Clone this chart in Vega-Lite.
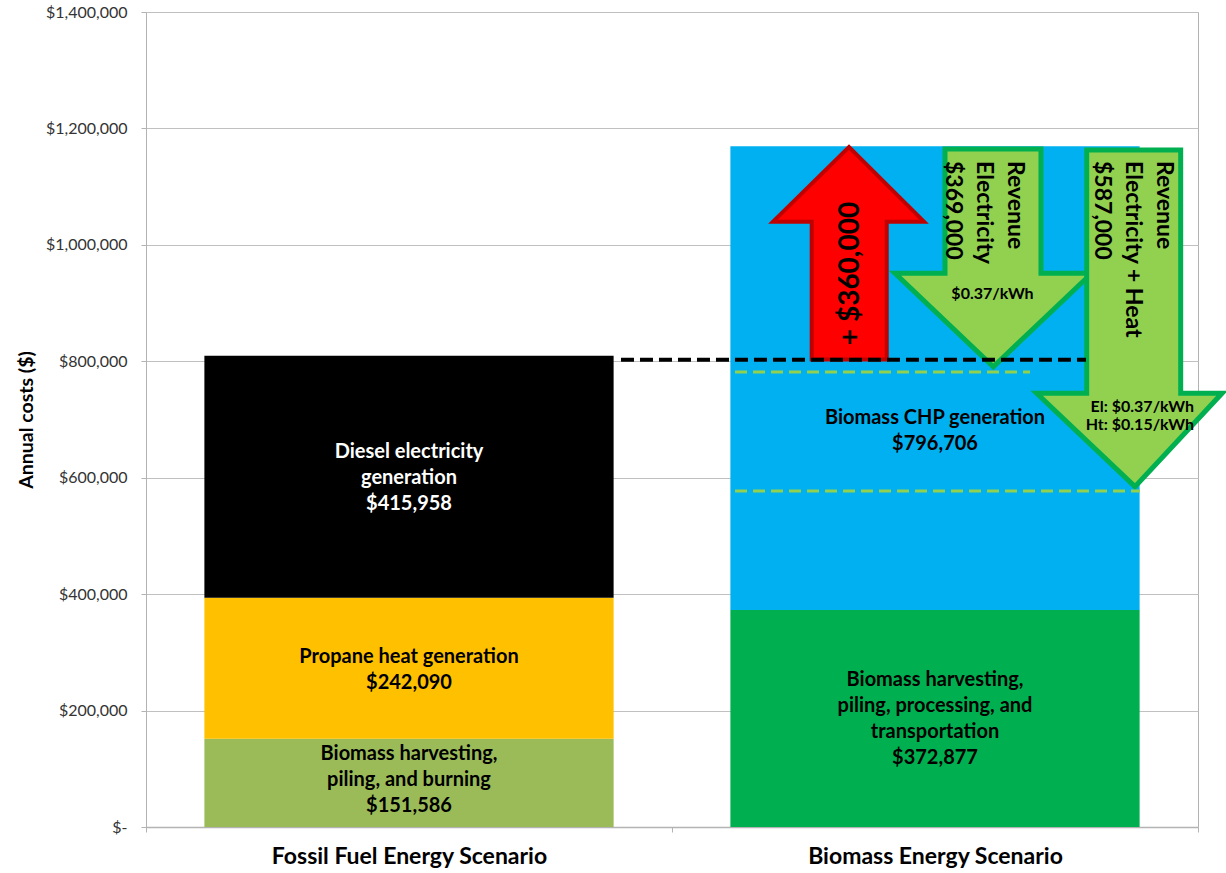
{
  "$schema": "https://vega.github.io/schema/vega-lite/v6.json",
  "width": 1052,
  "height": 815,
  "autosize": {"type": "none"},
  "padding": {"left": 146, "top": 12, "right": 28, "bottom": 46},
  "background": "white",
  "config": {
    "font": "Lato",
    "view": {"stroke": "#B3B3B3", "strokeWidth": 1},
    "axis": {"domainColor": "#B3B3B3", "tickColor": "#B3B3B3", "gridColor": "#C0C0C0"}
  },
  "datasets": {
    "bars": [
      {"scenario": "Fossil Fuel Energy Scenario", "segment": "Biomass harvesting, piling, and burning", "rank": 1, "cost": 151586},
      {"scenario": "Fossil Fuel Energy Scenario", "segment": "Propane heat generation", "rank": 2, "cost": 242090},
      {"scenario": "Fossil Fuel Energy Scenario", "segment": "Diesel electricity generation", "rank": 3, "cost": 415958},
      {"scenario": "Biomass Energy Scenario", "segment": "Biomass harvesting, piling, processing, and transportation", "rank": 1, "cost": 372877},
      {"scenario": "Biomass Energy Scenario", "segment": "Biomass CHP generation", "rank": 2, "cost": 796706}
    ],
    "barLabels": [
      {"scenario": "Fossil Fuel Energy Scenario", "segment": "Biomass harvesting, piling, and burning", "text": "Biomass harvesting,\npiling, and burning\n$151,586", "y": 125400},
      {"scenario": "Fossil Fuel Energy Scenario", "segment": "Propane heat generation", "text": "Propane heat generation\n$242,090", "y": 292000},
      {"scenario": "Fossil Fuel Energy Scenario", "segment": "Diesel electricity generation", "text": "Diesel electricity\ngeneration\n$415,958", "y": 644200},
      {"scenario": "Biomass Energy Scenario", "segment": "Biomass harvesting, piling, processing, and transportation", "text": "Biomass harvesting,\npiling, processing, and\ntransportation\n$372,877", "y": 252500},
      {"scenario": "Biomass Energy Scenario", "segment": "Biomass CHP generation", "text": "Biomass CHP generation\n$796,706", "y": 702600}
    ],
    "redArrow": [
      {"i": 1, "x": 1.2656, "y": 803000},
      {"i": 2, "x": 1.2656, "y": 1039800},
      {"i": 3, "x": 1.1920, "y": 1039800},
      {"i": 4, "x": 1.3365, "y": 1168100},
      {"i": 5, "x": 1.4791, "y": 1039800},
      {"i": 6, "x": 1.4082, "y": 1039800},
      {"i": 7, "x": 1.4082, "y": 803000}
    ],
    "greenArrows": [
      {"arrow": "Electricity", "i": 1, "x": 1.5190, "y": 1164700},
      {"arrow": "Electricity", "i": 2, "x": 1.7015, "y": 1164700},
      {"arrow": "Electricity", "i": 3, "x": 1.7015, "y": 951200},
      {"arrow": "Electricity", "i": 4, "x": 1.7979, "y": 951200},
      {"arrow": "Electricity", "i": 5, "x": 1.6109, "y": 790700},
      {"arrow": "Electricity", "i": 6, "x": 1.4240, "y": 951200},
      {"arrow": "Electricity", "i": 7, "x": 1.5190, "y": 951200},
      {"arrow": "Electricity + Heat", "i": 1, "x": 1.7884, "y": 1163000},
      {"arrow": "Electricity + Heat", "i": 2, "x": 1.9671, "y": 1163000},
      {"arrow": "Electricity + Heat", "i": 3, "x": 1.9671, "y": 745000},
      {"arrow": "Electricity + Heat", "i": 4, "x": 2.0456, "y": 745000},
      {"arrow": "Electricity + Heat", "i": 5, "x": 1.8802, "y": 584600},
      {"arrow": "Electricity + Heat", "i": 6, "x": 1.6933, "y": 745000},
      {"arrow": "Electricity + Heat", "i": 7, "x": 1.7884, "y": 745000}
    ],
    "greenLevels": [
      {"x": 1.1198, "x2": 1.6806, "y": 781600},
      {"x": 1.1198, "x2": 1.8897, "y": 577000}
    ],
    "fossilLevel": [
      {"x": 0.903, "x2": 1.787, "y": 802500}
    ]
  },
  "layer": [
    {
      "layer": [
        {
          "data": {"name": "bars"},
          "mark": {"type": "bar", "width": {"band": 0.778}},
          "encoding": {
            "x": {
              "field": "scenario", "type": "nominal",
              "scale": {"domain": ["Fossil Fuel Energy Scenario", "Biomass Energy Scenario"], "paddingInner": 0, "paddingOuter": 0},
              "axis": {"title": null, "labelAngle": 0, "tickBand": "extent", "tickSize": 5, "labelPadding": 13, "labelFontSize": 23, "labelFontWeight": "bold", "labelColor": "#000000", "labelLimit": 700, "domainColor": "#B3B3B3", "domainWidth": 1.5}
            },
            "y": {
              "field": "cost", "type": "quantitative", "stack": "zero",
              "scale": {"domain": [0, 1400000], "nice": false, "zero": true},
              "axis": {
                "title": "Annual costs ($)", "titleFontSize": 19.5, "titleFontWeight": "bold", "titleColor": "#000000", "titlePadding": 9,
                "values": [0, 200000, 400000, 600000, 800000, 1000000, 1200000, 1400000],
                "labelExpr": "datum.value === 0 ? '$-' : '$' + format(datum.value, ',')",
                "labelFontSize": 16, "labelColor": "#333333", "labelPadding": 14, "tickSize": 5,
                "grid": true, "domainColor": "#B3B3B3"
              }
            },
            "order": {"field": "rank", "type": "quantitative"},
            "color": {
              "field": "segment", "type": "nominal", "legend": null,
              "scale": {
                "domain": ["Biomass harvesting, piling, and burning", "Propane heat generation", "Diesel electricity generation", "Biomass harvesting, piling, processing, and transportation", "Biomass CHP generation"],
                "range": ["#9BBB59", "#FFC000", "#000000", "#00B050", "#00B0F0"]
              }
            }
          }
        },
        {
          "data": {"name": "barLabels"},
          "mark": {"type": "text", "lineBreak": "\n", "fontSize": 20, "fontWeight": "bold", "lineHeight": 26, "align": "center", "baseline": "middle"},
          "encoding": {
            "x": {"field": "scenario", "type": "nominal", "scale": {"domain": ["Fossil Fuel Energy Scenario", "Biomass Energy Scenario"], "paddingInner": 0, "paddingOuter": 0}},
            "y": {"field": "y", "type": "quantitative", "scale": {"domain": [0, 1400000], "nice": false}},
            "text": {"field": "text"},
            "color": {"condition": {"test": "datum.segment === 'Diesel electricity generation'", "value": "#FFFFFF"}, "value": "#000000"}
          }
        }
      ]
    },
    {
      "layer": [
        {
          "data": {"name": "redArrow"},
          "mark": {"type": "line", "interpolate": "linear-closed", "fill": "#FF0000", "stroke": "#C00000", "strokeWidth": 4, "strokeJoin": "miter", "clip": false},
          "encoding": {
            "x": {"field": "x", "type": "quantitative", "scale": {"domain": [0, 2], "nice": false, "zero": false}, "axis": null},
            "y": {"field": "y", "type": "quantitative", "scale": {"domain": [0, 1400000], "nice": false}},
            "order": {"field": "i", "type": "quantitative"}
          }
        },
        {
          "data": {"name": "greenArrows"},
          "mark": {"type": "line", "interpolate": "linear-closed", "fill": "#92D050", "stroke": "#00B050", "strokeWidth": 5, "strokeJoin": "miter", "clip": false},
          "encoding": {
            "x": {"field": "x", "type": "quantitative", "scale": {"domain": [0, 2], "nice": false, "zero": false}, "axis": null},
            "y": {"field": "y", "type": "quantitative", "scale": {"domain": [0, 1400000], "nice": false}},
            "detail": {"field": "arrow", "type": "nominal"},
            "order": {"field": "i", "type": "quantitative"}
          }
        },
        {
          "data": {"values": [{"x": 1.3403, "y": 950800, "text": "+ $360,000"}]},
          "mark": {"type": "text", "angle": 270, "fontSize": 28, "fontWeight": "bold", "align": "center", "baseline": "middle", "color": "#000000"},
          "encoding": {
            "x": {"field": "x", "type": "quantitative", "scale": {"domain": [0, 2], "nice": false, "zero": false}, "axis": null},
            "y": {"field": "y", "type": "quantitative", "scale": {"domain": [0, 1400000], "nice": false}},
            "text": {"field": "text"}
          }
        },
        {
          "data": {"values": [
            {"x": 1.6521, "y": 1144000, "text": "Revenue\nElectricity\n$369,000"},
            {"x": 1.9354, "y": 1144000, "text": "Revenue\nElectricity + Heat\n$587,000"}
          ]},
          "mark": {"type": "text", "angle": 90, "lineBreak": "\n", "fontSize": 23, "lineHeight": 31, "fontWeight": "bold", "align": "left", "baseline": "middle", "color": "#000000"},
          "encoding": {
            "x": {"field": "x", "type": "quantitative", "scale": {"domain": [0, 2], "nice": false, "zero": false}, "axis": null},
            "y": {"field": "y", "type": "quantitative", "scale": {"domain": [0, 1400000], "nice": false}},
            "text": {"field": "text"}
          }
        },
        {
          "data": {"values": [{"x": 1.6093, "y": 915600, "text": "$0.37/kWh"}]},
          "mark": {"type": "text", "fontSize": 16, "fontWeight": "bold", "align": "center", "baseline": "middle", "color": "#000000"},
          "encoding": {
            "x": {"field": "x", "type": "quantitative", "scale": {"domain": [0, 2], "nice": false, "zero": false}, "axis": null},
            "y": {"field": "y", "type": "quantitative", "scale": {"domain": [0, 1400000], "nice": false}},
            "text": {"field": "text"}
          }
        },
        {
          "data": {"values": [{"x": 1.9924, "y": 722000, "text": "El: $0.37/kWh\nHt: $0.15/kWh"}]},
          "mark": {"type": "text", "lineBreak": "\n", "lineHeight": 18.5, "fontSize": 16, "fontWeight": "bold", "align": "right", "baseline": "middle", "color": "#000000"},
          "encoding": {
            "x": {"field": "x", "type": "quantitative", "scale": {"domain": [0, 2], "nice": false, "zero": false}, "axis": null},
            "y": {"field": "y", "type": "quantitative", "scale": {"domain": [0, 1400000], "nice": false}},
            "text": {"field": "text"}
          }
        },
        {
          "data": {"name": "greenLevels"},
          "mark": {"type": "rule", "stroke": "#92D050", "strokeWidth": 3, "strokeDash": [12, 6]},
          "encoding": {
            "x": {"field": "x", "type": "quantitative", "scale": {"domain": [0, 2], "nice": false, "zero": false}, "axis": null},
            "x2": {"field": "x2"},
            "y": {"field": "y", "type": "quantitative", "scale": {"domain": [0, 1400000], "nice": false}}
          }
        },
        {
          "data": {"name": "fossilLevel"},
          "mark": {"type": "rule", "stroke": "#000000", "strokeWidth": 4, "strokeDash": [13, 6]},
          "encoding": {
            "x": {"field": "x", "type": "quantitative", "scale": {"domain": [0, 2], "nice": false, "zero": false}, "axis": null},
            "x2": {"field": "x2"},
            "y": {"field": "y", "type": "quantitative", "scale": {"domain": [0, 1400000], "nice": false}}
          }
        }
      ]
    }
  ],
  "resolve": {"scale": {"x": "independent"}, "axis": {"x": "independent"}}
}
